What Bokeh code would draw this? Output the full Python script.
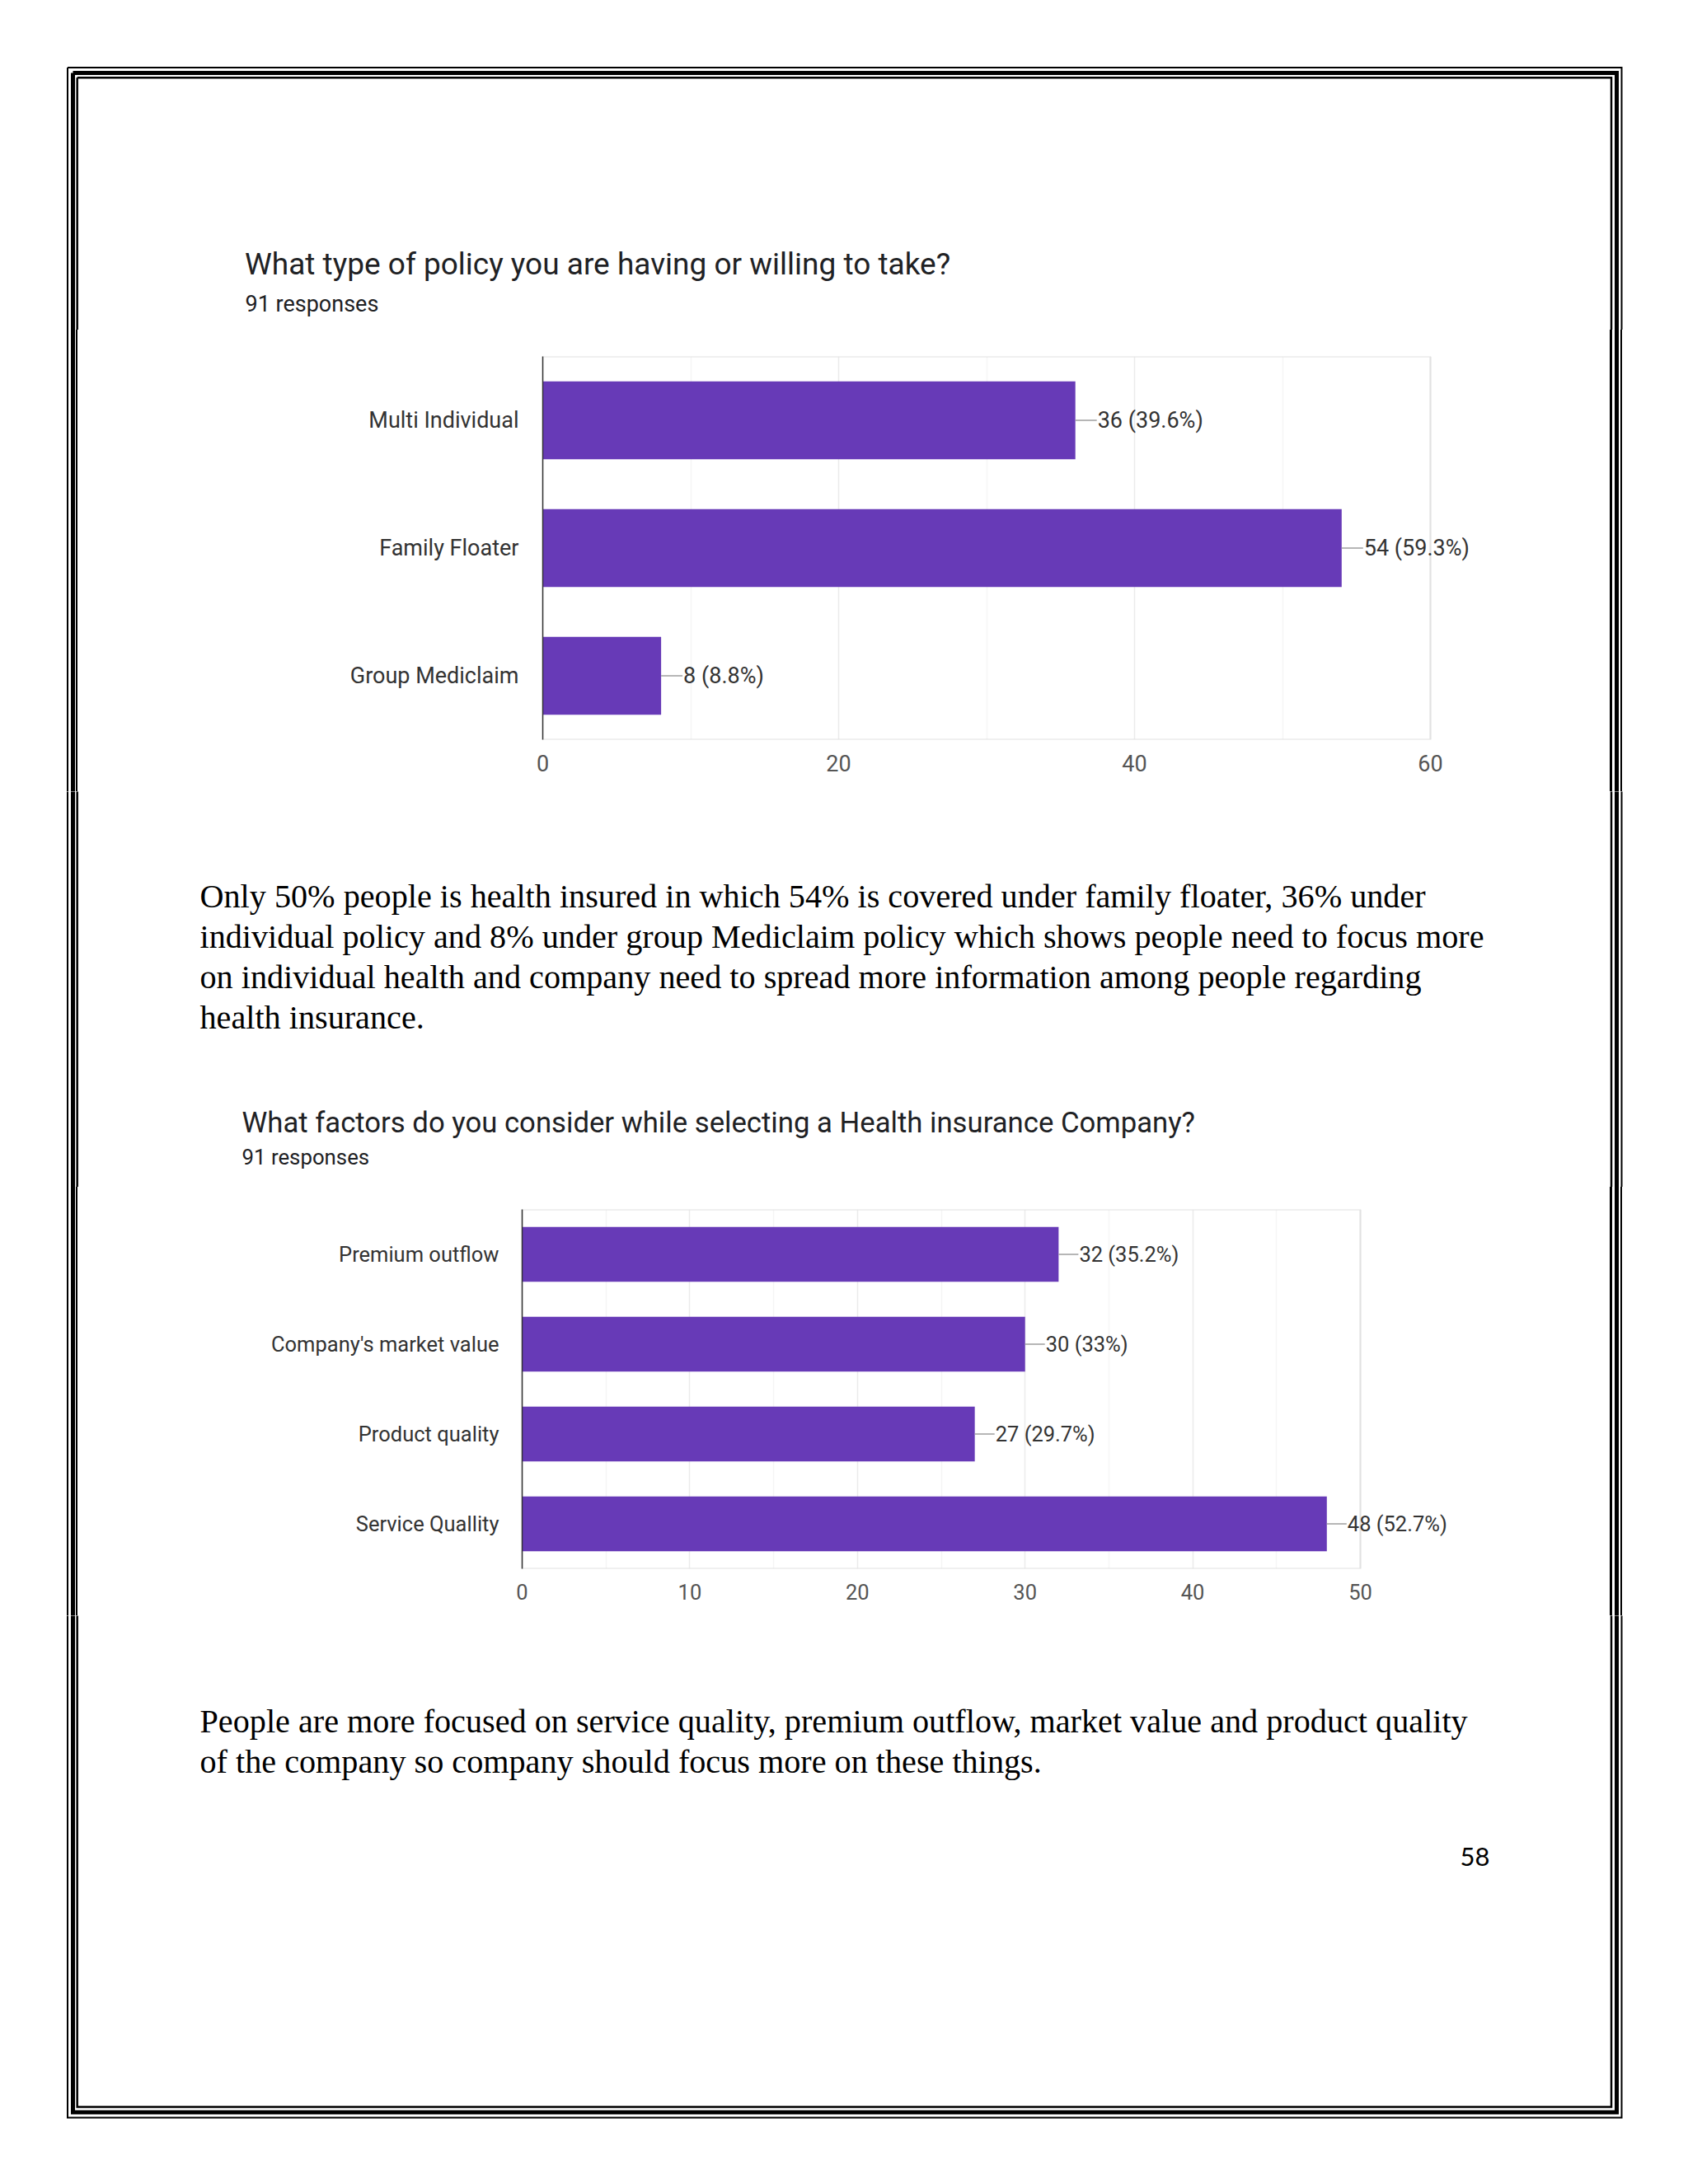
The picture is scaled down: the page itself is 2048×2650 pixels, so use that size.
from bokeh.plotting import figure
from bokeh.models import (Range1d, FactorRange, ColumnDataSource, LabelSet, FixedTicker,
                          Div, BoxAnnotation)
from bokeh.layouts import column, row
from bokeh.embed import file_html
from bokeh.resources import INLINE
from bokeh.core.properties import value

# ---------------- data ----------------
policy_types = ["Multi Individual", "Family Floater", "Group Mediclaim"]
policy_counts = [36, 54, 8]
policy_pct = ["39.6%", "59.3%", "8.8%"]
policy_ticks = [0, 20, 40, 60]
policy_minor = [10, 30, 50]

factor_names = ["Premium outflow", "Company's market value", "Product quality", "Service Quallity"]
factor_counts = [32, 30, 27, 48]
factor_pct = ["35.2%", "33%", "29.7%", "52.7%"]
factor_ticks = [0, 10, 20, 30, 40, 50]
factor_minor = [5, 15, 25, 35, 45]

title1 = "What type of policy you are having or willing to take?"
title2 = "What factors do you consider while selecting a Health insurance Company?"
responses = "91 responses"
para1 = [
    "Only 50% people is health insured in which 54% is covered under family floater, 36% under",
    "individual policy and 8% under group Mediclaim policy which shows people need to focus more",
    "on individual health and company need to spread more information among people regarding",
    "health insurance.",
]
para2 = [
    "People are more focused on service quality, premium outflow, market value and product quality",
    "of the company so company should focus more on these things.",
]
page_no = "58"

# ---------------- styling / layout (page pixel coordinates) ----------------
PAGE_X0, PAGE_X1 = 0, 2040
CHART_X0, CHART_X1 = 100, 1948
BAR_COLOR = "#673AB7"
TITLE_COLOR = "#202124"
LABEL_COLOR = "#333333"
TICK_COLOR = "#555555"
TEXT_SHIFT = 0.33  # em, baseline correction

BORDERS = [  # x0, y0, x1, y1, width
    (81.5, 81.5, 1967.0, 2569.0, 2.0),
    (88.0, 88.0, 1961.0, 2562.5, 5.0),
    (93.2, 93.7, 1954.5, 2556.0, 2.5),
]


def band(y0, y1, x0=PAGE_X0, x1=PAGE_X1):
    p = figure(width=int(x1 - x0), height=int(y1 - y0),
               x_range=Range1d(x0, x1), y_range=Range1d(y1, y0),
               x_axis_location=None, y_axis_location=None,
               output_backend="svg", toolbar_location=None,
               min_border=0, min_border_left=0, min_border_right=0,
               min_border_top=0, min_border_bottom=0)
    p.outline_line_color = None
    p.background_fill_color = "white"
    p.border_fill_color = "white"
    p.grid.visible = False
    for b in BORDERS:
        p.line([b[0], b[2], b[2], b[0], b[0]], [b[1], b[1], b[3], b[3], b[1]],
               line_color="black", line_width=b[4], line_join="miter")
    return p


def side(y0, y1, x0, x1):
    h = int(y1 - y0)
    w = int(x1 - x0)
    parts = []
    for b in BORDERS:
        for bx in (b[0], b[2]):
            if x0 <= bx <= x1:
                left = bx - b[4] / 2 - x0
                parts.append(
                    f'<div style="position:absolute;left:{left}px;top:0px;width:{b[4]}px;'
                    f'height:{h}px;background:#000;"></div>')
    html = (f'<div style="position:relative;width:{w}px;height:{h}px;overflow:hidden;'
            f'background:#fff;">' + "".join(parts) + '</div>')
    return Div(text=html, width=w, height=h, margin=0)


def add_text(p, x, y, txt, font, size_px, color):
    p.text(x=[x], y=[y - TEXT_SHIFT * size_px], text=[txt], text_font=value(font),
           text_font_size=f"{size_px}px", text_color=color,
           text_baseline="alphabetic", text_align="left")


def chart(cats, counts, pcts, ticks, minor, xmax, y0, y1, fl, fr, ft, fb,
          label_px, leader_px, standoff):
    fr_ext = CHART_X1 - 8
    xmax_ext = xmax * (fr_ext - fl) / (fr - fl)
    p = figure(width=CHART_X1 - CHART_X0, height=y1 - y0,
               y_range=FactorRange(*reversed(cats)), x_range=Range1d(0, xmax_ext),
               output_backend="svg", toolbar_location=None,
               min_border_left=fl - CHART_X0, min_border_right=CHART_X1 - fr_ext,
               min_border_top=ft - y0, min_border_bottom=y1 - fb)
    size = f"{label_px}px"
    p.background_fill_color = "white"
    p.border_fill_color = "white"
    p.outline_line_color = None
    p.ygrid.visible = False
    p.xgrid.grid_line_color = "#ebebeb"
    p.xgrid.grid_line_width = 1.5
    p.xgrid.minor_grid_line_color = "#f5f5f5"
    p.xgrid.minor_grid_line_width = 1.5
    p.xaxis.ticker = FixedTicker(ticks=ticks, minor_ticks=minor)
    p.xaxis.axis_line_color = None
    p.xaxis.major_tick_line_color = None
    p.xaxis.minor_tick_line_color = None
    p.xaxis.major_label_text_font = "Roboto"
    p.xaxis.major_label_text_font_size = size
    p.xaxis.major_label_text_color = TICK_COLOR
    p.xaxis.major_label_standoff = 12
    p.yaxis.axis_line_color = "#333333"
    p.yaxis.axis_line_width = 1.5
    p.yaxis.major_tick_line_color = None
    p.yaxis.minor_tick_line_color = None
    p.yaxis.major_label_text_font = "Roboto"
    p.yaxis.major_label_text_font_size = size
    p.yaxis.major_label_text_color = LABEL_COLOR
    p.yaxis.major_label_standoff = standoff

    # plot-area box from 0 to the axis maximum, full frame height
    p.add_layout(BoxAnnotation(left=0, right=xmax, fill_color=None, fill_alpha=0,
                               line_color="#e2e2e2", line_alpha=1.0, line_width=2,
                               level="underlay"))

    px_per_unit = (fr - fl) / xmax
    ends = [c + leader_px / px_per_unit for c in counts]
    labels = [f"{c} ({pc})" for c, pc in zip(counts, pcts)]
    src = ColumnDataSource(dict(cat=cats, val=counts, end=ends, lab=labels))
    p.hbar(y="cat", right="val", left=0, height=0.61, source=src,
           fill_color=BAR_COLOR, line_color=None)
    p.segment(x0="val", y0="cat", x1="end", y1="cat", source=src,
              line_color="#9e9e9e", line_width=1.5)
    p.add_layout(LabelSet(x="end", y="cat", text="lab", source=src, x_offset=1,
                          text_font=value("Roboto"), text_font_size=value(size),
                          text_color=LABEL_COLOR, text_baseline="middle",
                          text_align="left"))
    return p


# ---------------- band 1: top of page, first title ----------------
b1 = band(0, 400)
add_text(b1, 296.5, 332, title1, "Roboto", 37, TITLE_COLOR)
add_text(b1, 297, 377, responses, "Roboto", 27, TITLE_COLOR)

# ---------------- chart 1 row ----------------
c1 = chart(policy_types, policy_counts, policy_pct, policy_ticks, policy_minor, 60,
           400, 960, 658, 1735, 432, 897, 27, 26, 23)
row1 = row(side(400, 960, PAGE_X0, CHART_X0), c1, side(400, 960, CHART_X1, PAGE_X1),
           spacing=0)

# ---------------- band 2: paragraph 1, second title ----------------
b2 = band(960, 1440)
for i, line in enumerate(para1):
    add_text(b2, 242, 1100 + i * 49.1, line, "Liberation Serif", 40.2, "black")
add_text(b2, 293, 1372.5, title2, "Roboto", 34.7, TITLE_COLOR)
add_text(b2, 293, 1412, responses, "Roboto", 25.8, TITLE_COLOR)

# ---------------- chart 2 row ----------------
c2 = chart(factor_names, factor_counts, factor_pct, factor_ticks, factor_minor, 50,
           1440, 1960, 633, 1650, 1467, 1903, 25.5, 24, 22)
row2 = row(side(1440, 1960, PAGE_X0, CHART_X0), c2, side(1440, 1960, CHART_X1, PAGE_X1),
           spacing=0)

# ---------------- band 3: paragraph 2, page number ----------------
b3 = band(1960, 2640)
for i, line in enumerate(para2):
    add_text(b3, 242, 2101 + i * 49.1, line, "Liberation Serif", 40.2, "black")
add_text(b3, 1771, 2263, page_no, "Lato", 31, "black")

page = column(b1, row1, b2, row2, b3, spacing=0)

open("out.html", "w").write(file_html(page, INLINE))
